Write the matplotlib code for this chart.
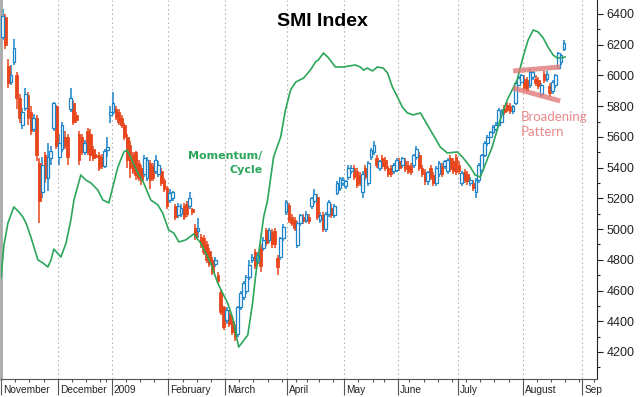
import numpy as np
import pandas as pd
import matplotlib
matplotlib.use('Agg')
import matplotlib.pyplot as plt
from matplotlib.ticker import MultipleLocator

plt.rcParams['font.family'] = 'Liberation Sans'

# SMI daily candles, 3 Nov 2008 .. 21 Aug 2009
opens = [
    6250, 6380, 6060, 5960, 6090, 6000, 5850, 5680, 5790, 5870,   # Nov
    5760, 5650, 5720, 5430, 5240, 5480, 5330, 5460, 5660, 5800,
    5470, 5520, 5600, 5600, 5780, 5820, 5740, 5620, 5600, 5500,   # Dec
    5640, 5620, 5520, 5480, 5480, 5470, 5410, 5515, 5745,
    5760, 5780, 5760, 5720, 5680, 5600, 5550, 5480, 5500, 5430,   # Jan
    5400, 5360, 5330, 5430, 5410, 5380, 5360, 5380, 5320, 5270,
    5190, 5200, 5150, 5090, 5100, 5150, 5160, 5150, 5130, 5010,   # Feb
    4990, 4950, 4940, 4900, 4860, 4800, 4770, 4700, 4590, 4490,
    4405, 4450, 4400, 4360, 4320, 4490, 4560, 4600, 4690, 4800,   # Mar
    4850, 4790, 4880, 4880, 4995, 4930, 4980, 4990, 4810, 4820,
    4940, 5110,
    5155, 5080, 5060, 4895, 5040, 5080, 5060, 5080, 5150, 5180,   # Apr
    5210, 5060, 5090, 5000, 5100, 5140, 5090, 5235, 5270, 5300,
    5280, 5340, 5380, 5400, 5380, 5350, 5240, 5400, 5300, 5470,   # May
    5500, 5460, 5400, 5460, 5450, 5395, 5400, 5380, 5385,
    5440, 5420, 5440, 5420, 5410, 5420, 5470, 5480, 5400, 5370,   # Jun
    5310, 5400, 5350, 5300, 5360, 5410, 5410, 5380, 5460, 5440,
    5470,
    5420, 5300, 5370, 5360, 5300, 5300, 5240, 5320, 5385, 5480,   # Jul
    5560, 5600, 5630, 5650, 5680, 5700, 5790, 5810, 5800, 5770,
    5820, 5940, 5960,
    5980, 5970, 5940, 5990, 5980, 5970, 5880, 6010, 5980, 5930,   # Aug
    5900, 5940, 6050, 6090, 6170,
]
highs = [
    6430, 6400, 6110, 6070, 6240, 6020, 5880, 5790, 5920, 5890,
    5800, 5750, 5740, 5460, 5470, 5500, 5560, 5540, 5830, 5810,
    5620, 5700, 5640, 5620, 5920, 5840, 5760, 5640, 5620, 5580,
    5660, 5650, 5540, 5490, 5500, 5490, 5520, 5600, 5800,
    5890, 5800, 5780, 5740, 5690, 5620, 5570, 5500, 5510, 5450,
    5420, 5480, 5470, 5450, 5430, 5480, 5440, 5400, 5330, 5280,
    5260, 5250, 5160, 5170, 5160, 5170, 5180, 5240, 5140, 5030,
    5070, 4970, 4960, 4920, 4880, 4820, 4820, 4720, 4610, 4500,
    4490, 4470, 4420, 4380, 4500, 4600, 4660, 4700, 4800, 4840,
    4870, 4850, 4900, 4950, 5010, 5010, 5000, 5010, 4830, 4950,
    5030, 5190,
    5170, 5100, 5080, 5050, 5100, 5100, 5120, 5100, 5210, 5260,
    5230, 5110, 5110, 5110, 5190, 5160, 5160, 5310, 5340, 5340,
    5320, 5420, 5420, 5420, 5400, 5370, 5380, 5420, 5440, 5530,
    5570, 5480, 5450, 5480, 5470, 5410, 5420, 5430, 5460,
    5460, 5470, 5460, 5440, 5430, 5490, 5540, 5500, 5420, 5390,
    5380, 5420, 5370, 5410, 5440, 5430, 5450, 5460, 5480, 5460,
    5490,
    5440, 5380, 5390, 5380, 5340, 5320, 5330, 5430, 5490, 5570,
    5610, 5640, 5680, 5700, 5790, 5780, 5810, 5830, 5820, 5810,
    5960, 5995, 6010,
    6000, 5990, 6040, 6030, 6000, 5990, 5950, 6030, 6030, 5950,
    5970, 6010, 6150, 6140, 6230,
]
lows = [
    6230, 6170, 5920, 5940, 6070, 5780, 5690, 5650, 5770, 5680,
    5610, 5630, 5440, 5040, 5200, 5300, 5250, 5420, 5640, 5520,
    5420, 5500, 5520, 5420, 5760, 5680, 5690, 5420, 5480, 5480,
    5480, 5440, 5440, 5460, 5380, 5390, 5400, 5470, 5690,
    5740, 5710, 5680, 5660, 5580, 5400, 5330, 5360, 5320, 5310,
    5290, 5340, 5310, 5260, 5310, 5360, 5340, 5280, 5240, 5130,
    5170, 5180, 5060, 5070, 5080, 5060, 5080, 5130, 5090, 4930,
    4940, 4880, 4830, 4780, 4750, 4700, 4750, 4640, 4440, 4340,
    4380, 4360, 4310, 4270, 4300, 4470, 4540, 4580, 4670, 4780,
    4740, 4770, 4720, 4860, 4890, 4910, 4880, 4880, 4700, 4800,
    4920, 5090,
    5040, 5020, 4990, 4880, 5020, 5030, 5040, 5030, 5130, 5160,
    5060, 5040, 4980, 4980, 5080, 5070, 5070, 5220, 5250, 5280,
    5260, 5320, 5360, 5320, 5270, 5280, 5200, 5320, 5280, 5450,
    5480, 5400, 5380, 5390, 5380, 5340, 5340, 5360, 5370,
    5380, 5400, 5370, 5360, 5350, 5400, 5450, 5380, 5340, 5290,
    5290, 5320, 5280, 5280, 5340, 5340, 5390, 5360, 5370, 5360,
    5350,
    5360, 5280, 5300, 5290, 5280, 5250, 5200, 5300, 5370, 5470,
    5540, 5590, 5620, 5640, 5670, 5690, 5740, 5760, 5750, 5750,
    5810, 5930, 5950,
    5900, 5890, 5920, 5970, 5930, 5910, 5860, 5950, 5960, 5860,
    5880, 5920, 6040, 6070, 6160,
]
closes = [
    6390, 6200, 5950, 6000, 6180, 5850, 5720, 5760, 5880, 5720,
    5640, 5720, 5480, 5180, 5420, 5330, 5470, 5510, 5820, 5540,
    5560, 5680, 5540, 5470, 5850, 5700, 5710, 5450, 5500, 5560,
    5500, 5480, 5460, 5470, 5400, 5410, 5510, 5535, 5760,
    5820, 5730, 5700, 5680, 5600, 5450, 5400, 5380, 5350, 5330,
    5320, 5460, 5450, 5320, 5330, 5450, 5420, 5300, 5260, 5150,
    5235, 5240, 5080, 5150, 5140, 5080, 5100, 5200, 5110, 4950,
    5010, 4900, 4850, 4800, 4770, 4720, 4800, 4660, 4460, 4360,
    4470, 4380, 4330, 4300, 4490, 4585, 4650, 4690, 4765, 4820,
    4760, 4830, 4760, 4930, 4910, 4995, 4900, 4900, 4750, 4940,
    5015, 5175,
    5060, 5040, 5010, 5040, 5090, 5050, 5100, 5050, 5200, 5230,
    5080, 5090, 5000, 5100, 5175, 5090, 5150, 5300, 5330, 5320,
    5310, 5400, 5400, 5340, 5290, 5300, 5360, 5340, 5430, 5515,
    5545, 5420, 5440, 5410, 5400, 5360, 5360, 5420, 5450,
    5400, 5460, 5390, 5380, 5370, 5480, 5520, 5400, 5360, 5310,
    5370, 5340, 5300, 5400, 5430, 5360, 5440, 5450, 5390, 5380,
    5370,
    5380, 5365, 5320, 5310, 5320, 5270, 5320, 5415, 5480, 5560,
    5600, 5630, 5665, 5680, 5775, 5760, 5760, 5775, 5770, 5800,
    5950, 5985, 6000,
    5920, 5905, 6020, 6020, 5950, 5930, 5940, 5970, 6010, 5885,
    5960, 6000, 6145, 6130, 6210,
]

# momentum / cycle line, (bar position, level)
mom_x = [-0.5, 0.5, 1.9, 4.0, 5.8, 7.2, 8.3, 10.0, 12.5, 14.3, 16.0, 17.1,
         18.1, 20.6, 22.4, 24.1, 25.2, 27.6, 29.4, 31.2, 33.6, 35.4, 37.5,
         38.9, 40.7, 42.8, 43.9, 45.3, 47.7, 49.8, 52.3, 54.8, 56.5, 58.6,
         60.4, 62.2, 64.6, 67.4, 69.9, 73.4, 75.9, 77.6, 79.4, 81.2, 83.3,
         86.5, 88.2, 89.3, 91.0, 92.1, 93.5, 95.6, 98.1, 99.8, 101.6, 103.4,
         106.2, 108.6, 110.4, 111.4, 113.2, 115.0, 117.4, 120.3, 122.0,
         124.5, 126.2, 127.3, 128.7, 130.5, 132.2, 134.3, 135.8, 137.5,
         139.3, 141.0, 142.8, 144.9, 147.4, 150.9, 154.4, 156.9, 160.4,
         162.5, 165.0, 166.7, 168.5, 170.9, 172.7, 175.5, 178.0, 181.5,
         183.6, 185.4, 187.2, 188.9, 190.7, 192.4, 194.2, 195.6, 196.7, 198.4]
mom_y = [4688, 4896, 5039, 5144, 5111, 5078, 5039, 4948, 4799, 4779, 4753, 4799,
         4870, 4818, 4909, 5059, 5189, 5352, 5319, 5300, 5254, 5189, 5170,
         5274, 5404, 5502, 5515, 5463, 5365, 5300, 5189, 5157, 5104, 4994,
         4974, 4916, 4929, 4968, 4909, 4779, 4649, 4584, 4519, 4421, 4232,
         4310, 4519, 4701, 4929, 5078, 5189, 5469, 5599, 5775, 5905, 5957,
         5983, 6035, 6088, 6101, 6146, 6114, 6055, 6055, 6061,
         6068, 6055, 6035, 6048, 6029, 6055, 6048, 6016, 5925,
         5860, 5795, 5756, 5743, 5756, 5645, 5534, 5495, 5502,
         5463, 5404, 5352, 5339, 5450, 5534, 5710, 5840, 5970,
         6120, 6231, 6296, 6283, 6244, 6185, 6133, 6114, 6114, 6120]

# broadening pattern boundaries
upper_x, upper_y = [180.1, 196.7], [6029, 6055]
lower_x, lower_y = [180.1, 196.7], [5918, 5834]

holidays = ['2008-12-24', '2008-12-25', '2008-12-26', '2008-12-31',
            '2009-01-01', '2009-01-02', '2009-04-10', '2009-04-13',
            '2009-05-01', '2009-05-21', '2009-06-01']
month_names = ['November', 'December', '2009', 'February', 'March', 'April',
               'May', 'June', 'July', 'August', 'Sep']

BLUE = '#1b84c9'
RED = '#e8461c'
GREEN = '#2ca65a'
PINK = '#e07b7b'

# trading calendar -> bar positions
days = pd.bdate_range('2008-11-03', '2009-09-30')
days = days[~days.isin(pd.to_datetime(holidays))]
pos = np.arange(len(days))
month_start = pos[np.r_[True, days.month[1:] != days.month[:-1]]][:len(month_names)]
week_start = pos[np.r_[True, days.weekday[1:] < days.weekday[:-1]]]
bounds = month_start - 0.5

o = np.array(opens, float)
h = np.array(highs, float)
l = np.array(lows, float)
c = np.array(closes, float)
idx = np.arange(len(c))
up = c >= o
dn = ~up

fig = plt.figure(figsize=(6.4, 3.97), dpi=100)
ax = fig.add_axes([0.0016, 0.0453, 0.9313, 0.9547])

# month separators
for b in bounds[1:]:
    ax.axvline(b, color='#b5b5b5', lw=0.8, ls=(0, (1.5, 2.5)), zorder=0)

# candles
ax.vlines(idx[dn], l[dn], h[dn], color=RED, lw=1.1, zorder=2)
ax.bar(idx[dn], (o - c)[dn], bottom=c[dn], width=0.95, color=RED,
       edgecolor=RED, lw=0.6, zorder=3)
ax.vlines(idx[up], l[up], h[up], color=BLUE, lw=1.1, zorder=2)
ax.bar(idx[up], np.maximum((c - o)[up], 8), bottom=o[up], width=0.95,
       facecolor='white', edgecolor=BLUE, lw=0.9, zorder=3)

ax.plot(mom_x, mom_y, color=GREEN, lw=1.2, zorder=4)

ax.plot(upper_x, upper_y, color=PINK, lw=3.6, alpha=0.8,
        solid_capstyle='butt', zorder=5)
ax.plot(lower_x, lower_y, color=PINK, lw=3.6, alpha=0.8,
        solid_capstyle='butt', zorder=5)

ax.text(91.7, 5427, 'Momentum/\nCycle', color=GREEN, fontsize=8,
        fontweight='bold', family='DejaVu Sans', ha='right', va='center',
        multialignment='right', linespacing=1.5)
ax.text(182.9, 5681, 'Broadening\nPattern', color='#e88a8a', fontsize=9.5,
        family='Lato', ha='left', va='center', linespacing=1.3)
fig.text(322 / 640, 1 - 22 / 397, 'SMI Index', fontsize=14,
         fontweight='bold', ha='center', va='center')

ax.set_xlim(-0.53, 209.7)
ax.set_ylim(4024, 6491)

# y axis on the right
ax.yaxis.tick_right()
ax.set_yticks(np.arange(4200, 6401, 200))
ax.yaxis.set_minor_locator(MultipleLocator(100))
ax.tick_params(axis='y', which='major', length=4, width=0.8, colors='#222222',
               labelsize=9, pad=3)
ax.tick_params(axis='y', which='minor', length=2.5, width=0.8, color='#222222')

# x axis: month boundaries + weekly minors
ax.set_xticks(bounds)
ax.set_xticklabels([])
ax.set_xticks(week_start[week_start < 210] - 0.5, minor=True)
ax.tick_params(axis='x', which='major', length=11.5, width=0.8, color='#555555')
ax.tick_params(axis='x', which='minor', length=2.5, width=0.8, color='#555555')
for b, name in zip(bounds, month_names):
    ax.text(b + 0.7, -0.029, name, transform=ax.get_xaxis_transform(),
            ha='left', va='center', fontsize=7.3, color='#222222')

ax.spines['top'].set_visible(False)
ax.spines['right'].set_color('#222222')
ax.spines['bottom'].set_color('#555555')
ax.spines['left'].set_color('#a8a8a8')
ax.spines['left'].set_linewidth(2)

fig.savefig('out.png', dpi=100)
plt.close(fig)
